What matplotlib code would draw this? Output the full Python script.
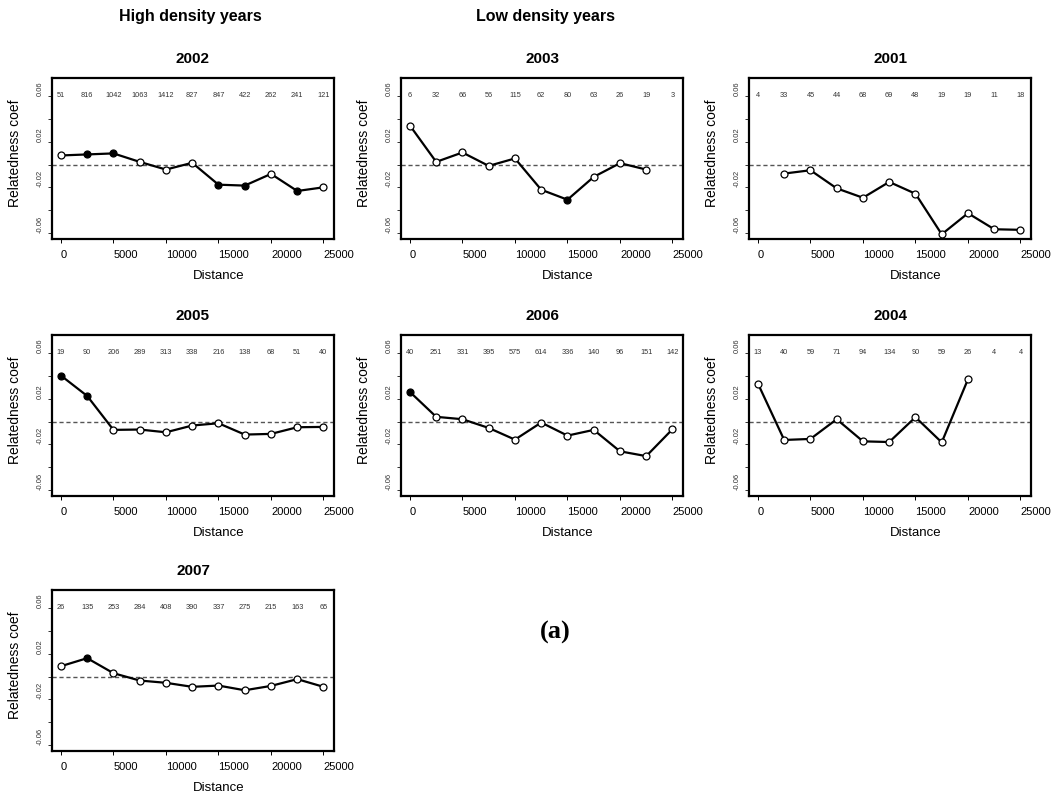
import numpy as np
import matplotlib
matplotlib.use('Agg')
import matplotlib.pyplot as plt
from matplotlib.transforms import ScaledTranslation

plt.rcParams['font.family'] = ['Liberation Sans', 'DejaVu Sans']

#===============================
# distance classes and panel data
dist = [0, 2500, 5000, 7500, 10000, 12500, 15000, 17500, 20000, 22500, 25000]
NA = np.nan

r2002 = [0.0079, 0.0088, 0.0097, 0.0023, -0.0044, 0.0015, -0.0176, -0.0184, -0.0082, -0.0231, -0.0199]
f2002 = [0, 1, 1, 0, 0, 0, 1, 1, 0, 1, 0]
n2002 = [51, 816, 1042, 1063, 1412, 827, 847, 422, 262, 241, 121]

r2003 = [0.0340, 0.0023, 0.0105, -0.0012, 0.0053, -0.0220, -0.0307, -0.0108, 0.0012, -0.0044, NA]
f2003 = [0, 0, 0, 0, 0, 0, 1, 0, 0, 0, 0]
n2003 = [6, 32, 66, 56, 115, 62, 80, 63, 26, 19, 3]

r2001 = [NA, -0.0079, -0.0050, -0.0208, -0.0290, -0.0152, -0.0255, -0.0609, -0.0425, -0.0565, -0.0570]
f2001 = [0, 0, 0, 0, 0, 0, 0, 0, 0, 0, 0]
n2001 = [4, 33, 45, 44, 68, 69, 48, 19, 19, 11, 18]

r2005 = [0.0401, 0.0223, -0.0073, -0.0070, -0.0094, -0.0035, -0.0015, -0.0114, -0.0108, -0.0050, -0.0047]
f2005 = [1, 1, 0, 0, 0, 0, 0, 0, 0, 0, 0]
n2005 = [19, 90, 206, 289, 313, 338, 216, 138, 68, 51, 40]

r2006 = [0.0258, 0.0041, 0.0020, -0.0056, -0.0158, -0.0009, -0.0123, -0.0073, -0.0260, -0.0302, -0.0067]
f2006 = [1, 0, 0, 0, 0, 0, 0, 0, 0, 0, 0]
n2006 = [40, 251, 331, 395, 575, 614, 336, 140, 96, 151, 142]

r2004 = [0.0331, -0.0161, -0.0152, 0.0020, -0.0173, -0.0179, 0.0038, -0.0182, 0.0369, NA, NA]
f2004 = [0, 0, 0, 0, 0, 0, 0, 0, 0, 0, 0]
n2004 = [13, 40, 59, 71, 94, 134, 90, 59, 26, 4, 4]

r2007 = [0.0090, 0.0160, 0.0029, -0.0035, -0.0055, -0.0090, -0.0079, -0.0120, -0.0082, -0.0023, -0.0090]
f2007 = [0, 1, 0, 0, 0, 0, 0, 0, 0, 0, 0]
n2007 = [26, 135, 253, 284, 408, 390, 337, 275, 215, 163, 65]


#==================================
def DrawPanel(fig, rect, title, r, filled, counts):
  ax = fig.add_axes(rect)
  x = np.array(dist, dtype=float)
  y = np.array(r, dtype=float)
  ok = ~np.isnan(y)
  ax.axhline(0, color='#555555', lw=1.0, ls=(0, (3, 2)), zorder=1)
  ax.plot(x[ok], y[ok], 'k-', lw=1.6, zorder=2)
  fl = np.array(filled, dtype=bool)
  ax.plot(x[ok & ~fl], y[ok & ~fl], 'o', ms=5, mfc='white', mec='black', mew=0.9, zorder=3)
  ax.plot(x[ok & fl], y[ok & fl], 'o', ms=5, mfc='black', mec='black', mew=0.9, zorder=3)
  for xi, c in zip(dist, counts):
    ax.text(xi, 0.06, str(c), ha='center', va='center', fontsize=5.3, color='#333333')
  ax.set_xlim(-850, 26000)
  ax.set_ylim(-0.065, 0.0755)
  ax.set_xticks([0, 5000, 10000, 15000, 20000, 25000])
  ax.set_xticklabels(['0', '5000', '10000', '15000', '20000', '25000'], ha='left')
  xoff = ScaledTranslation(-3 / 100.0, 0, fig.dpi_scale_trans)
  for lab in ax.get_xticklabels():
    lab.set_transform(lab.get_transform() + xoff)
  ax.set_yticks([0.06, 0.04, 0.02, 0.0, -0.02, -0.04, -0.06])
  ax.set_yticklabels(['0.06', '', '0.02', '', '-0.02', '', '-0.06'], rotation=90, va='bottom')
  ax.tick_params(axis='x', labelsize=8, length=3, width=0.7, pad=5)
  ax.tick_params(axis='y', labelsize=5.5, length=3, width=0.7, pad=3, colors='#333333')
  for s in ax.spines.values():
    s.set_linewidth(1.6)
  ax.set_xlabel('Distance', fontsize=9.5, va='center')
  ax.xaxis.set_label_coords(0.592, -0.23)
  ax.set_ylabel('Relatedness coef', fontsize=10, va='center')
  ax.yaxis.set_label_coords(-0.131, 0.535)
  ax.set_title(title, fontsize=11, fontweight='bold', pad=11)
  return ax


def DrawFig(filename):
  fig = plt.figure(figsize=(10.56, 7.98), dpi=100)
  W, H = 1056.0, 798.0
  lefts = [52, 401, 749]
  tops = [78, 335, 590]
  w, h = 282, 161

  def rect(col, row):
    return [lefts[col] / W, 1 - (tops[row] + h) / H, w / W, h / H]

  DrawPanel(fig, rect(0, 0), '2002', r2002, f2002, n2002)
  DrawPanel(fig, rect(1, 0), '2003', r2003, f2003, n2003)
  DrawPanel(fig, rect(2, 0), '2001', r2001, f2001, n2001)
  DrawPanel(fig, rect(0, 1), '2005', r2005, f2005, n2005)
  DrawPanel(fig, rect(1, 1), '2006', r2006, f2006, n2006)
  DrawPanel(fig, rect(2, 1), '2004', r2004, f2004, n2004)
  DrawPanel(fig, rect(0, 2), '2007', r2007, f2007, n2007)

  fig.text(190 / W, 1 - 16 / H, 'High density years', ha='center', va='center',
           fontsize=11.5, fontweight='bold')
  fig.text(545 / W, 1 - 16 / H, 'Low density years', ha='center', va='center',
           fontsize=11.5, fontweight='bold')
  fig.text(555 / W, 1 - 632 / H, '(a)', ha='center', va='center', fontsize=19,
           fontweight='bold', family='Liberation Serif')
  plt.savefig(filename, dpi=100)
  return


#==================================
def main():
  DrawFig('out.png')
  return

if __name__ == '__main__':
  main()
